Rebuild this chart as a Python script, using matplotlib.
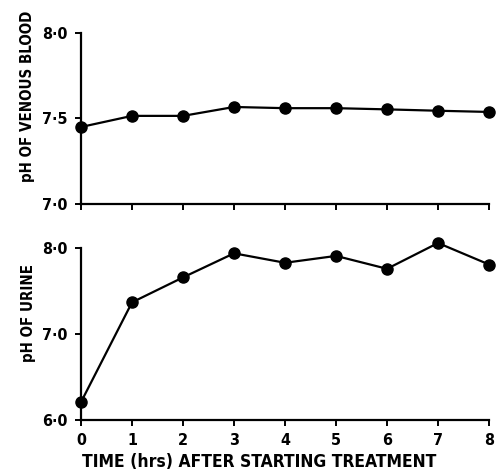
import matplotlib
matplotlib.use("Agg")
import matplotlib.pyplot as plt

hours = [0, 1, 2, 3, 4, 5, 6, 7, 8]
venous_ph = [7.45, 7.515, 7.515, 7.567, 7.56, 7.56, 7.553, 7.545, 7.538]
urine_ph = [6.21, 7.37, 7.66, 7.94, 7.83, 7.91, 7.76, 8.06, 7.81]
venous_ticks = [7.0, 7.5, 8.0]
venous_labels = ["7·0", "7·5", "8·0"]
urine_ticks = [6.0, 7.0, 8.0]
urine_labels = ["6·0", "7·0", "8·0"]
x_labels = ["0", "1", "2", "3", "4", "5", "6", "7", "8"]

fontkw = dict(family="DejaVu Sans", fontstretch="condensed", fontweight="bold")

fig = plt.figure(figsize=(4.97, 4.70), dpi=100)
ax1 = fig.add_axes([0.163, 0.566, 0.821, 0.364])
ax2 = fig.add_axes([0.163, 0.106, 0.821, 0.366])

def style(ax):
    for s in ["top", "right"]:
        ax.spines[s].set_visible(False)
    for s in ["left", "bottom"]:
        ax.spines[s].set_linewidth(1.6)
        ax.spines[s].set_color("black")
    ax.tick_params(direction="out", length=4.5, width=1.4, pad=5, colors="black")

ax1.plot(hours, venous_ph, color="black", lw=1.6, marker="o", ms=8, clip_on=False, zorder=3)
ax1.set_xlim(0, 8)
ax1.set_ylim(7.0, 8.0)
ax1.set_yticks(venous_ticks)
ax1.set_yticklabels(venous_labels, fontsize=11.5, **fontkw)
ax1.set_xticks(hours)
ax1.set_xticklabels([])
style(ax1)

ax2.plot(hours, urine_ph, color="black", lw=1.6, marker="o", ms=8, clip_on=False, zorder=3)
ax2.set_xlim(0, 8)
ax2.set_ylim(6.0, 8.0)
ax2.set_yticks(urine_ticks)
ax2.set_yticklabels(urine_labels, fontsize=11.5, **fontkw)
ax2.set_xticks(hours)
ax2.set_xticklabels(x_labels, fontsize=11.5, **fontkw)
style(ax2)

fig.text(28 / 497, 1 - 96 / 470, "pH OF VENOUS BLOOD", rotation=90, ha="center", va="center", fontsize=10.8, **fontkw)
fig.text(28 / 497, 1 - 313 / 470, "pH OF URINE", rotation=90, ha="center", va="center", fontsize=10.8, **fontkw)
fig.text(259 / 497, 1 - 462 / 470, "TIME (hrs) AFTER STARTING TREATMENT", ha="center", va="center", fontsize=12.5, **fontkw)

fig.savefig("out.png", dpi=100)
